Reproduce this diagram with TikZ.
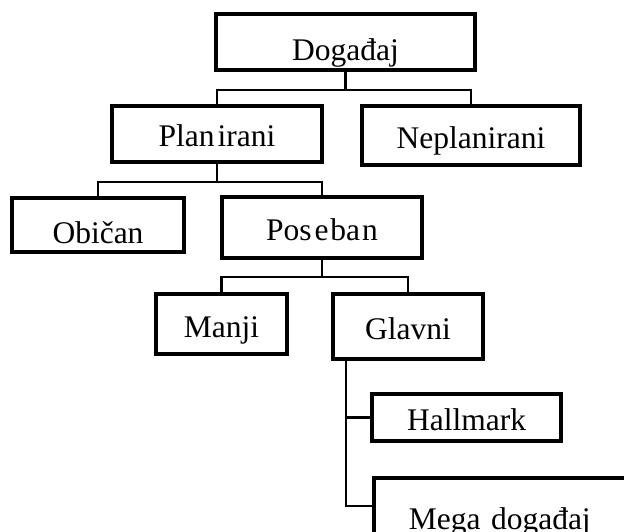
\documentclass[tikz,border=0pt]{standalone}
\usepackage{fontspec}
\setmainfont{Liberation Serif}
\usetikzlibrary{positioning}

\begin{document}
\begin{tikzpicture}[x=1pt,y=-1pt,
  box/.style={draw,line width=3.6pt,inner sep=0pt,text height=29pt,
    text depth=3pt,font=\fontsize{31.5}{36}\selectfont},
  link/.style={line width=2.2pt}]
\useasboundingbox (0,0) rectangle (624,532);
\clip (0,0) rectangle (624,532);
\node[box,minimum width=259pt,minimum height=56pt,text height=40pt,
  text depth=2pt] (Dogadjaj) at (345.5,42) {Događaj};
\node[box,minimum width=210pt,minimum height=56pt] (Planirani)
  at (217,134) {Plan\kern3pt irani};
\node[box,minimum width=218pt,minimum height=59pt] (Neplanirani)
  at (471,135.5) {Neplanirani};
\node[box,minimum width=172pt,minimum height=54pt,text height=40pt]
  (Obican) at (98,225) {Običan};
\node[box,minimum width=200pt,minimum height=61pt] (Poseban)
  at (322,227.5) {Pos\kern3pt e\kern2pt ba\kern2pt n};
\node[box,minimum width=131pt,minimum height=60pt] (Manji)
  at (221.5,324) {Manji};
\node[box,minimum width=150pt,minimum height=65pt] (Glavni)
  at (408,326.5) {Glavni};
\node[box,minimum width=189pt,minimum height=47pt] (Hallmark)
  at (466.5,417.5) {Hallmark};
\node[box,anchor=west,minimum height=56pt,text height=48pt,text depth=2pt,
  inner xsep=35pt,text width=260pt,align=left] (Mega)
  at (372,506) {Mega događaj};
% tree links
\begin{scope}[link]
\draw (Dogadjaj.south) -- ++(0,18) -| (Planirani.north);
\draw (Dogadjaj.south) -- ++(0,18) -| (Neplanirani.north);
\draw (Planirani.south) -- ++(0,18) -| (Obican.north);
\draw (Planirani.south) -- ++(0,18) -| (Poseban.north);
\draw (Poseban.south) -- ++(0,17) -| (Manji.north);
\draw (Poseban.south) -- ++(0,17) -| (Glavni.north);
\draw ([xshift=15pt]Glavni.south west) |- (Hallmark.west);
\draw ([xshift=15pt]Glavni.south west) |- (Mega.west);
\end{scope}
\end{tikzpicture}
\end{document}
